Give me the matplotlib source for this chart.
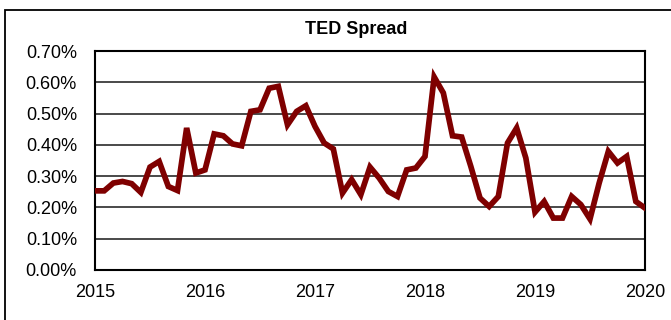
import numpy as np
import matplotlib.pyplot as plt
from matplotlib.patches import Rectangle

plt.rcParams['font.family'] = ['Liberation Sans', 'DejaVu Sans']

# monthly TED spread (%), Jan 2015 .. Jan 2020
ted = [0.253, 0.253, 0.278, 0.283, 0.276, 0.248, 0.329, 0.347, 0.267, 0.254,
       0.454, 0.310, 0.320, 0.435, 0.429, 0.403, 0.397, 0.507, 0.512, 0.581,
       0.587, 0.464, 0.507, 0.525, 0.459, 0.406, 0.387, 0.246, 0.289, 0.241,
       0.329, 0.294, 0.251, 0.235, 0.320, 0.326, 0.363, 0.617, 0.566, 0.429,
       0.425, 0.331, 0.230, 0.203, 0.235, 0.406, 0.454, 0.358, 0.185, 0.219,
       0.166, 0.166, 0.235, 0.209, 0.163, 0.278, 0.379, 0.342, 0.363, 0.219,
       0.198]
years = [2015, 2016, 2017, 2018, 2019, 2020]
yticks = [0.0, 0.1, 0.2, 0.3, 0.4, 0.5, 0.6, 0.7]

x = 2015 + np.arange(len(ted)) / 12.0

fig = plt.figure(figsize=(6.71, 3.2), dpi=100)
ax = fig.add_axes([95/671, 50/320, 550/671, 219/320])

for v in yticks[1:]:
    ax.axhline(v, color='#3a3a3a', lw=1.3, zorder=1)
ax.plot(x, ted, color='#7f0000', lw=4.1, solid_joinstyle='miter', zorder=3)

ax.set_xlim(2015, 2020)
ax.set_ylim(0, 0.7)
ax.set_xticks(years)
ax.set_xticklabels([str(y) for y in years], fontsize=13)
ax.set_yticks(yticks)
ax.set_yticklabels(['%.2f%%' % v for v in yticks], fontsize=13)
ax.tick_params(length=0)
ax.tick_params(axis='x', pad=10)
ax.tick_params(axis='y', pad=13)
for s in ax.spines.values():
    s.set_linewidth(1.5)
    s.set_color('black')

fig.text(356/671, 1 - 29/320, 'TED Spread', ha='center', va='center',
         fontsize=13, fontweight='bold')

fig.patches.append(Rectangle((5/671, -0.2), 1.2, 1 - 10/320 + 0.2,
                             transform=fig.transFigure, fill=False,
                             edgecolor='black', lw=1.3))

fig.savefig('out.png', dpi=100)
